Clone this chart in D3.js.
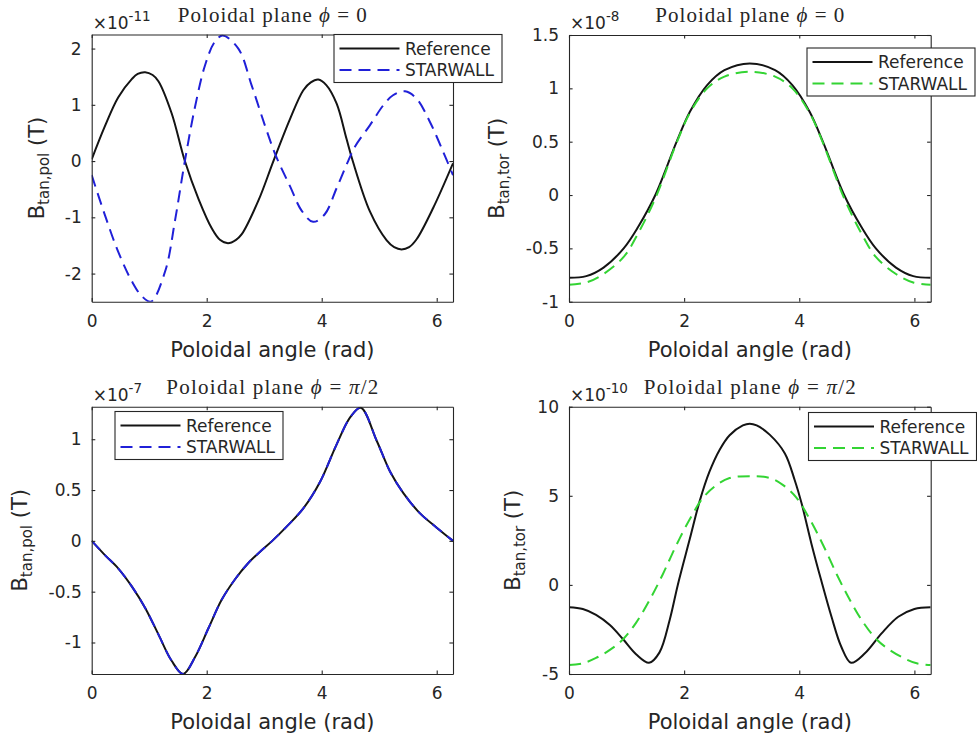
<!DOCTYPE html>
<html lang="en">
<head>
<meta charset="UTF-8">
<title>Tangential field: Reference vs STARWALL</title>
<script src="https://d3js.org/d3.v7.min.js"></script>
<style>
  body { margin: 0; background: #fff; }
  svg text { font-family: "DejaVu Sans", sans-serif; fill: #262626; }
</style>
</head>
<body>
<div id="chart"></div>
<script>

// ---- data (values in units of the x10^n exponent) ----
var xTickVals = [0, 2, 4, 6];
var seriesNames = ["Reference", "STARWALL"];
var planeLabels = ["0", "0", "π/2", "π/2"];
var exponents = ["-11", "-8", "-7", "-10"];
var yLabelSubs = ["tan,pol", "tan,tor", "tan,pol", "tan,tor"];

var yTicks1 = [-2, -1, 0, 1, 2];
var yTicks2 = [-1, -0.5, 0, 0.5, 1, 1.5];
var yTicks3 = [-1, -0.5, 0, 0.5, 1];
var yTicks4 = [-5, 0, 5, 10];

// top left: B_tan,pol, phi = 0
var theta1Ref = [0, 0.23, 0.46, 0.70, 0.80, 0.93, 1.06, 1.16, 1.39, 1.62, 1.86, 2.09, 2.23, 2.37, 2.51, 2.61, 2.90, 3.16, 3.45, 3.68, 3.81, 3.94, 4.08, 4.26, 4.43, 4.54, 4.84, 5.13, 5.26, 5.39, 5.52, 5.65, 5.94, 6.2832];
var ref1 = [0.03, 0.62, 1.13, 1.46, 1.55, 1.58, 1.53, 1.42, 0.85, 0.0, -0.68, -1.20, -1.40, -1.46, -1.40, -1.30, -0.70, 0.0, 0.75, 1.26, 1.40, 1.45, 1.35, 1.02, 0.40, 0.0, -0.90, -1.41, -1.53, -1.57, -1.53, -1.39, -0.83, -0.04];
var theta1Star = [0, 0.23, 0.46, 0.70, 0.87, 1.03, 1.28, 1.45, 1.62, 1.80, 1.97, 2.14, 2.28, 2.55, 2.78, 3.01, 3.20, 3.45, 3.65, 3.85, 4.05, 4.26, 4.46, 4.58, 4.84, 5.07, 5.24, 5.45, 5.65, 5.88, 6.11, 6.2832];
var star1 = [-0.25, -0.96, -1.61, -2.14, -2.40, -2.50, -1.95, -1.05, 0.0, 0.98, 1.70, 2.12, 2.23, 2.00, 1.35, 0.64, 0.10, -0.45, -0.88, -1.08, -0.95, -0.48, 0.0, 0.26, 0.64, 0.99, 1.17, 1.24, 1.11, 0.70, 0.17, -0.25];

// top right: B_tan,tor, phi = 0
var theta2 = [0, 0.30, 0.60, 0.95, 1.20, 1.50, 1.87, 2.10, 2.40, 2.70, 3.14, 3.58, 3.88, 4.18, 4.41, 4.78, 5.08, 5.33, 5.68, 5.98, 6.2832];
var ref2 = [-0.775, -0.76, -0.68, -0.50, -0.30, 0.0, 0.50, 0.78, 1.03, 1.17, 1.234, 1.17, 1.03, 0.78, 0.50, 0.0, -0.30, -0.50, -0.68, -0.76, -0.775];
var star2 = [-0.84, -0.82, -0.74, -0.58, -0.36, -0.03, 0.49, 0.77, 1.00, 1.11, 1.156, 1.11, 1.00, 0.77, 0.49, -0.03, -0.36, -0.58, -0.74, -0.82, -0.84];

// bottom left: B_tan,pol, phi = pi/2
var theta3 = [0, 0.23, 0.46, 0.70, 0.93, 1.16, 1.39, 1.59, 1.80, 2.03, 2.26, 2.49, 2.72, 2.96, 3.14, 3.39, 3.68, 3.97, 4.26, 4.50, 4.68, 4.96, 5.19, 5.42, 5.71, 6.00, 6.2832];
var ref3 = [0, -0.14, -0.27, -0.45, -0.66, -0.92, -1.18, -1.31, -1.14, -0.86, -0.58, -0.38, -0.22, -0.09, 0.0, 0.14, 0.32, 0.58, 0.95, 1.22, 1.31, 0.98, 0.68, 0.47, 0.27, 0.13, 0.0];
var star3 = [0, -0.14, -0.27, -0.45, -0.66, -0.92, -1.18, -1.31, -1.14, -0.86, -0.58, -0.38, -0.22, -0.09, 0.0, 0.14, 0.32, 0.58, 0.95, 1.22, 1.31, 0.98, 0.68, 0.47, 0.27, 0.13, 0.0];

// bottom right: B_tan,tor, phi = pi/2
var theta4Ref = [0, 0.24, 0.47, 0.71, 0.94, 1.17, 1.39, 1.57, 1.75, 1.89, 2.10, 2.27, 2.44, 2.62, 2.79, 3.02, 3.14, 3.26, 3.49, 3.75, 3.92, 4.04, 4.21, 4.38, 4.56, 4.73, 4.90, 5.14, 5.43, 5.72, 6.00, 6.2832];
var ref4 = [-1.25, -1.35, -1.68, -2.25, -3.05, -3.90, -4.37, -3.80, -1.95, 0.0, 2.60, 4.70, 6.35, 7.60, 8.40, 8.95, 9.05, 8.95, 8.42, 7.38, 5.89, 4.58, 2.33, 0.27, -1.79, -3.47, -4.37, -3.84, -2.72, -1.79, -1.35, -1.25];
var theta4Star = [0, 0.24, 0.47, 0.71, 0.94, 1.17, 1.40, 1.63, 1.86, 2.10, 2.33, 2.56, 2.79, 3.14, 3.49, 3.72, 3.95, 4.18, 4.42, 4.65, 4.88, 5.11, 5.34, 5.57, 5.81, 6.04, 6.2832];
var star4 = [-4.5, -4.4, -4.1, -3.65, -3.05, -2.1, -0.85, 0.6, 2.2, 3.7, 4.9, 5.6, 6.0, 6.1, 6.0, 5.6, 4.9, 3.7, 2.2, 0.6, -0.85, -2.1, -3.05, -3.65, -4.1, -4.4, -4.5];

// ---- layout ----
var W = 977, H = 738;
var panels = [
  {left: 91.7, top: 34.5, right: 453, bottom: 301.7, yDomain: [-2.5, 2.25], yTicks: yTicks1,
   refX: theta1Ref, ref: ref1, starX: theta1Star, star: star1, color: "#2020d8",
   ylabX: 43.5, legend: {x: 334, y: 34.5}},
  {left: 569, top: 35, right: 930.7, bottom: 301.7, yDomain: [-1, 1.5], yTicks: yTicks2,
   refX: theta2, ref: ref2, starX: theta2, star: star2, color: "#33d433",
   ylabX: 504, legend: {x: 807, y: 48}},
  {left: 91.7, top: 406.7, right: 453, bottom: 674, yDomain: [-1.31, 1.32], yTicks: yTicks3,
   refX: theta3, ref: ref3, starX: theta3, star: star3, color: "#2020d8",
   ylabX: 27, legend: {x: 115, y: 411.5}},
  {left: 569, top: 406.7, right: 930.7, bottom: 674, yDomain: [-5, 10], yTicks: yTicks4,
   refX: theta4Ref, ref: ref4, starX: theta4Star, star: star4, color: "#33d433",
   ylabX: 520, legend: {x: 808.5, y: 412.5}}
];
var tickLen = 3.6;
var axisColor = "#262626";
var dash = "12,7";
var fmt = function(d) { return String(d); };

var svg = d3.select("#chart").append("svg")
    .attr("width", W)
    .attr("height", H);

panels.forEach(function(p, i) {
  var w = p.right - p.left, h = p.bottom - p.top;
  var x = d3.scaleLinear().domain([0, 2 * Math.PI]).range([0, w]);
  var y = d3.scaleLinear().domain(p.yDomain).range([h, 0]);

  var g = svg.append("g")
      .attr("transform", "translate(" + p.left + "," + p.top + ")");

  g.append("clipPath").attr("id", "clip" + i)
    .append("rect").attr("width", w).attr("height", h);

  // white plot area
  g.append("rect").attr("width", w).attr("height", h).attr("fill", "#fff");

  var line = d3.line()
      .x(function(d) { return x(d[0]); })
      .y(function(d) { return y(d[1]); })
      .curve(d3.curveCatmullRom.alpha(0.5));

  var lines = g.append("g").attr("clip-path", "url(#clip" + i + ")");
  lines.append("path")
      .datum(d3.zip(p.refX, p.ref))
      .attr("d", line)
      .attr("fill", "none")
      .attr("stroke", "#141414")
      .attr("stroke-width", 2);
  lines.append("path")
      .datum(d3.zip(p.starX, p.star))
      .attr("d", line)
      .attr("fill", "none")
      .attr("stroke", p.color)
      .attr("stroke-width", 2)
      .attr("stroke-dasharray", dash);

  // axes, ticks pointing inwards on all four sides
  g.append("g").attr("class", "axis")
      .attr("transform", "translate(0," + h + ")")
      .call(d3.axisBottom(x).tickValues(xTickVals).tickSizeInner(-tickLen).tickSizeOuter(0).tickPadding(13).tickFormat(fmt));
  g.append("g").attr("class", "axis")
      .call(d3.axisTop(x).tickValues(xTickVals).tickSizeInner(-tickLen).tickSizeOuter(0).tickFormat(""));
  g.append("g").attr("class", "axis")
      .call(d3.axisLeft(y).tickValues(p.yTicks).tickSizeInner(-tickLen).tickSizeOuter(0).tickPadding(10).tickFormat(fmt));
  g.append("g").attr("class", "axis")
      .attr("transform", "translate(" + w + ",0)")
      .call(d3.axisRight(y).tickValues(p.yTicks).tickSizeInner(-tickLen).tickSizeOuter(0).tickFormat(""));

  g.selectAll(".axis path, .axis line").attr("stroke", axisColor).attr("stroke-width", 1.1);
  g.selectAll(".axis text")
      .attr("fill", axisColor)
      .style("font-family", "'DejaVu Sans', sans-serif")
      .style("font-size", "17px");

  // x label
  g.append("text")
      .attr("x", w / 2)
      .attr("y", h + 55)
      .attr("text-anchor", "middle")
      .style("font-size", "21px")
      .text("Poloidal angle (rad)");

  // y label, rotated, with subscript
  var yl = svg.append("text")
      .attr("transform", "translate(" + p.ylabX + "," + (p.top + h / 2) + ") rotate(-90)")
      .attr("text-anchor", "middle")
      .style("font-size", "21px");
  yl.append("tspan").text("B");
  yl.append("tspan").attr("dy", 5).style("font-size", "15px").text(yLabelSubs[i]);
  yl.append("tspan").attr("dy", -5).text(" (T)");

  // exponent label
  var ex = svg.append("text")
      .attr("x", p.left + 1)
      .attr("y", p.top - 6)
      .style("font-size", "17px");
  ex.append("tspan").text("×10");
  ex.append("tspan").attr("dy", -8).style("font-size", "13.5px").text(exponents[i]);

  // title
  var t = svg.append("text")
      .attr("x", p.left + w / 2)
      .attr("y", p.top - (i < 2 ? 13 : 12.5))
      .attr("text-anchor", "middle")
      .style("font-family", "'Liberation Serif', serif")
      .style("font-size", "21px");
  t.append("tspan").text("Poloidal plane ");
  t.append("tspan").style("font-style", "italic").text("ϕ");
  t.append("tspan").text(" = ");
  var pl = planeLabels[i];
  if (pl.indexOf("π") === 0) {
    t.append("tspan").style("font-style", "italic").text("π");
    t.append("tspan").text(pl.slice(1));
  } else {
    t.append("tspan").text(pl);
  }
  t.attr("textLength", pl === "0" ? 189 : 212).attr("lengthAdjust", "spacing");
});

// legends last so the top-left one overlaps into the next panel like the original
panels.forEach(function(p) {
  var lg = svg.append("g").attr("transform", "translate(" + p.legend.x + "," + p.legend.y + ")");
  lg.append("rect")
      .attr("width", 168)
      .attr("height", 48)
      .attr("fill", "#fff")
      .attr("stroke", axisColor)
      .attr("stroke-width", 1.1);
  var items = [
    {name: seriesNames[0], color: "#141414", dash: null},
    {name: seriesNames[1], color: p.color, dash: dash}
  ];
  items.forEach(function(it, k) {
    var cy = 14 + k * 21.5;
    lg.append("line")
        .attr("x1", 5.5).attr("x2", 65.5)
        .attr("y1", cy).attr("y2", cy)
        .attr("stroke", it.color)
        .attr("stroke-width", 2)
        .attr("stroke-dasharray", it.dash);
    lg.append("text")
        .attr("x", 71)
        .attr("y", cy)
        .attr("dy", "0.36em")
        .style("font-size", "17px")
        .text(it.name);
  });
});

</script>
</body>
</html>
